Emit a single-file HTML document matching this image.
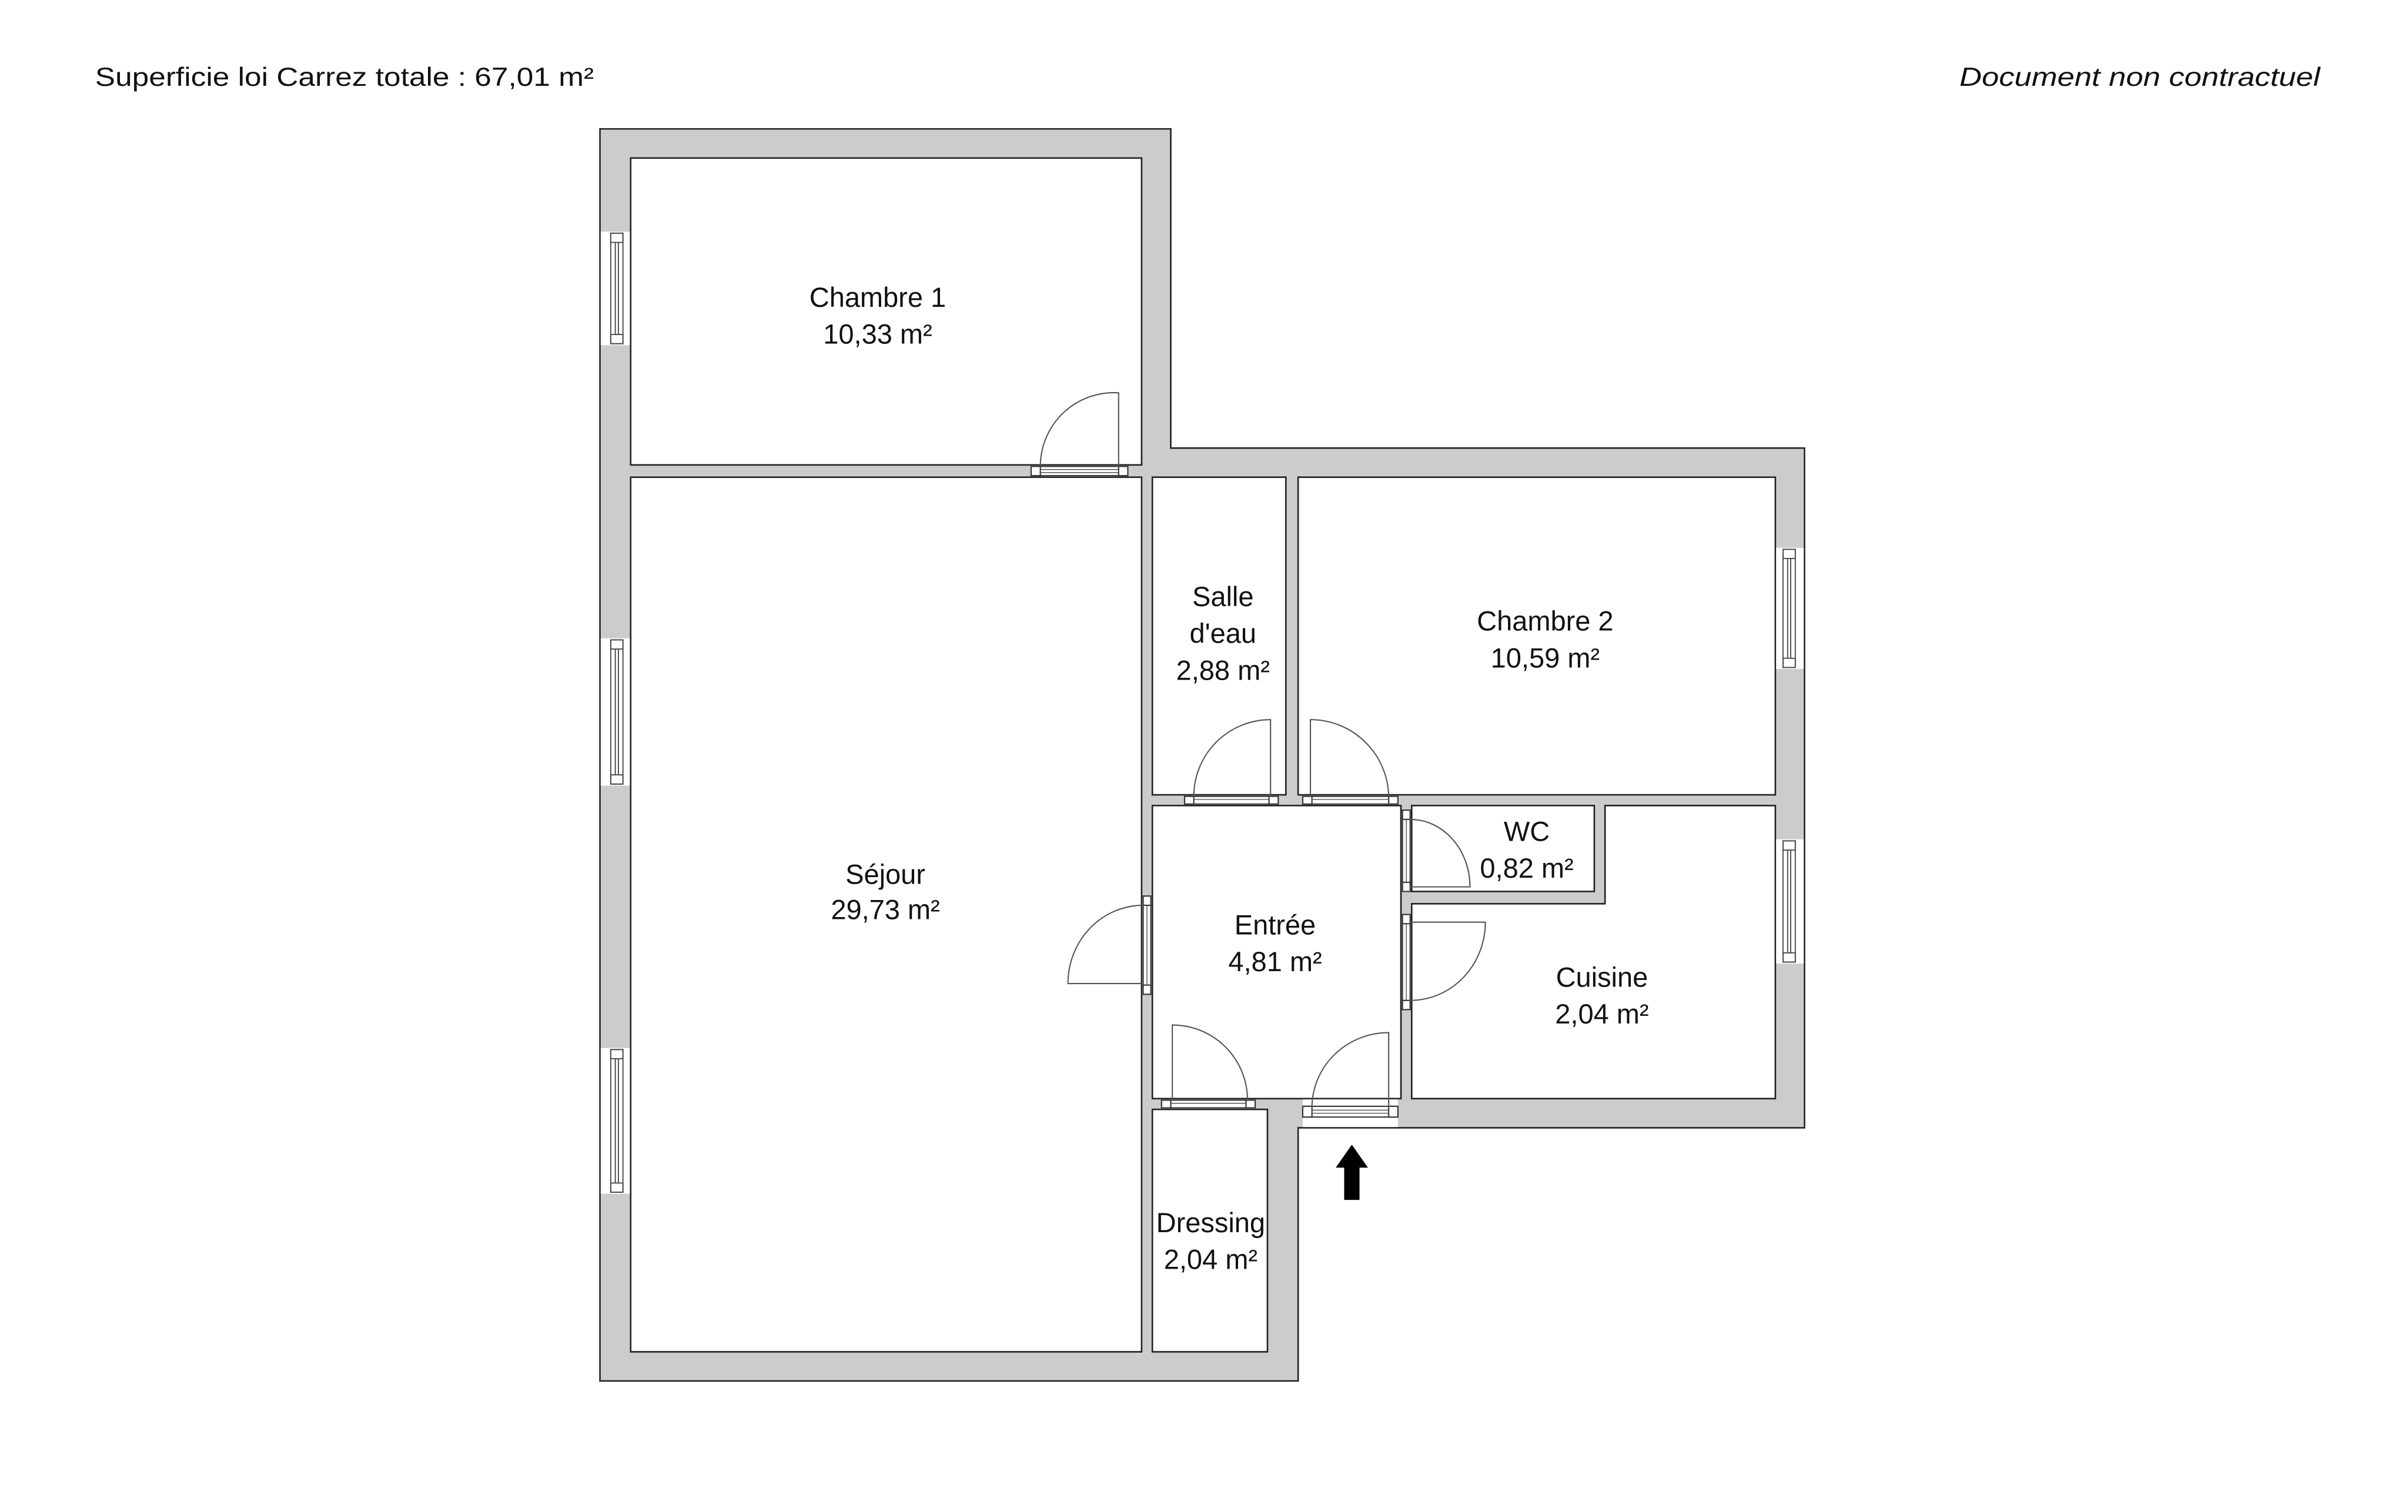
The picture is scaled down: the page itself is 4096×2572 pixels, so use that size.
<!DOCTYPE html>
<html><head><meta charset="utf-8"><style>
html,body{margin:0;padding:0;background:#fff;}
svg{display:block;}
text{font-family:"Liberation Sans",sans-serif;fill:#111;}
</style></head><body>
<svg width="4096" height="2572" viewBox="0 0 1569.3 985.4" preserveAspectRatio="none" xmlns="http://www.w3.org/2000/svg">
<rect x="0" y="0" width="1569.3" height="985.4" fill="#fff"/>
<text x="62" y="56" font-size="17" textLength="325" lengthAdjust="spacingAndGlyphs">Superficie loi Carrez totale :  67,01 m²</text>
<text x="1277" y="56" font-size="17" font-style="italic" textLength="235" lengthAdjust="spacingAndGlyphs">Document non contractuel</text>

<!-- walls -->
<polygon points="391,84 763,84 763,292 1176,292 1176,735 846,735 846,900 391,900" fill="#cccccc" stroke="#222" stroke-width="1"/>
<g fill="#fff" stroke="#222" stroke-width="1">
<rect x="411" y="103" width="333" height="200"/>
<rect x="411" y="311" width="333" height="570"/>
<rect x="751" y="311" width="87" height="207"/>
<rect x="846" y="311" width="311" height="207"/>
<rect x="751" y="525" width="162" height="191"/>
<rect x="920" y="525" width="119" height="56"/>
<polygon points="920,589 1046,589 1046,525 1157,525 1157,716 920,716"/>
<rect x="751" y="723" width="75" height="158"/>
</g>

<!-- windows -->
<g stroke="#444" stroke-width="0.7">
<g fill="#fff">
<rect x="391.5" y="151" width="19" height="74" stroke="none"/>
<rect x="391.5" y="416" width="19" height="96" stroke="none"/>
<rect x="391.5" y="683" width="19" height="95" stroke="none"/>
<rect x="1157.5" y="357" width="18" height="79" stroke="none"/>
<rect x="1157.5" y="547" width="18" height="81" stroke="none"/>
</g>
<g fill="none">
<rect x="398" y="152" width="8" height="72"/><rect x="398" y="152" width="8" height="6"/><rect x="398" y="218" width="8" height="6"/><line x1="401" y1="158" x2="401" y2="218"/><line x1="403" y1="158" x2="403" y2="218"/>
<rect x="398" y="417" width="8" height="94"/><rect x="398" y="417" width="8" height="6"/><rect x="398" y="505" width="8" height="6"/><line x1="401" y1="423" x2="401" y2="505"/><line x1="403" y1="423" x2="403" y2="505"/>
<rect x="398" y="684" width="8" height="93"/><rect x="398" y="684" width="8" height="6"/><rect x="398" y="771" width="8" height="6"/><line x1="401" y1="690" x2="401" y2="771"/><line x1="403" y1="690" x2="403" y2="771"/>
<rect x="1162" y="358" width="8" height="77"/><rect x="1162" y="358" width="8" height="6"/><rect x="1162" y="429" width="8" height="6"/><line x1="1165" y1="364" x2="1165" y2="429"/><line x1="1167" y1="364" x2="1167" y2="429"/>
<rect x="1162" y="548" width="8" height="79"/><rect x="1162" y="548" width="8" height="6"/><rect x="1162" y="621" width="8" height="6"/><line x1="1165" y1="554" x2="1165" y2="621"/><line x1="1167" y1="554" x2="1167" y2="621"/>
</g>
</g>

<!-- door openings -->
<g fill="#fff" stroke="none">
<rect x="672" y="303.5" width="63" height="7"/>
<rect x="772" y="518.5" width="61" height="6"/>
<rect x="849" y="518.5" width="62" height="6"/>
<rect x="744.5" y="584" width="6" height="64"/>
<rect x="913.5" y="528" width="6" height="53"/>
<rect x="913.5" y="596" width="6" height="62"/>
<rect x="757" y="716.5" width="61" height="6"/>
<rect x="849" y="716.5" width="62" height="18"/>
</g>
<g fill="#fff" stroke="#333" stroke-width="0.8">
<rect x="672" y="304" width="63" height="6"/><rect x="672" y="304" width="6" height="6"/><rect x="729" y="304" width="6" height="6"/>
<rect x="772" y="519" width="61" height="5"/><rect x="772" y="519" width="6" height="5"/><rect x="827" y="519" width="6" height="5"/>
<rect x="849" y="519" width="62" height="5"/><rect x="849" y="519" width="6" height="5"/><rect x="905" y="519" width="6" height="5"/>
<rect x="757" y="717" width="61" height="5"/><rect x="757" y="717" width="6" height="5"/><rect x="812" y="717" width="6" height="5"/>
<rect x="849" y="721" width="62" height="7"/><rect x="849" y="721" width="6" height="7"/><rect x="905" y="721" width="6" height="7"/>
<rect x="745" y="584" width="5" height="64"/><rect x="745" y="584" width="5" height="6"/><rect x="745" y="642" width="5" height="6"/>
<rect x="914" y="528" width="5" height="53"/><rect x="914" y="528" width="5" height="6"/><rect x="914" y="575" width="5" height="6"/>
<rect x="914" y="596" width="5" height="62"/><rect x="914" y="596" width="5" height="6"/><rect x="914" y="652" width="5" height="6"/>
</g>
<g fill="none" stroke="#444" stroke-width="0.5">
<line x1="678" y1="306" x2="729" y2="306"/><line x1="678" y1="308" x2="729" y2="308"/>
<line x1="778" y1="521" x2="827" y2="521"/><line x1="855" y1="521" x2="905" y2="521"/>
<line x1="763" y1="719" x2="812" y2="719"/><line x1="855" y1="723.5" x2="905" y2="723.5"/><line x1="855" y1="725.5" x2="905" y2="725.5"/>
<line x1="747.5" y1="590" x2="747.5" y2="642"/><line x1="916.5" y1="534" x2="916.5" y2="575"/><line x1="916.5" y1="602" x2="916.5" y2="652"/>
</g>
<g fill="none" stroke="#555" stroke-width="0.8">
<path d="M729,304 L729,256 A48,48 0 0 0 678,304"/>
<path d="M828,519 L828,469 A50,50 0 0 0 778,519"/>
<path d="M854,519 L854,469 A51,51 0 0 1 905,519"/>
<path d="M745,641 L696,641 A49,51 0 0 1 745,590"/>
<path d="M919,578 L958,578 A39,44 0 0 0 919,534"/>
<path d="M919,601 L968,601 A49,51 0 0 1 919,652"/>
<path d="M764,717 L764,668 A49,49 0 0 1 813,717"/>
<path d="M905,722 L905,673 A50,49 0 0 0 855,722"/>
</g>
<polygon points="881,746 891.5,761 886,761 886,782 876,782 876,761 870.5,761" fill="#000"/>

<g font-size="18" text-anchor="middle">
<text x="572" y="200">Chambre 1</text><text x="572" y="224">10,33 m²</text>
<text x="797" y="395">Salle</text><text x="797" y="419">d'eau</text><text x="797" y="443">2,88 m²</text>
<text x="1007" y="411">Chambre 2</text><text x="1007" y="435">10,59 m²</text>
<text x="577" y="576">Séjour</text><text x="577" y="599">29,73 m²</text>
<text x="831" y="609">Entrée</text><text x="831" y="633">4,81 m²</text>
<text x="995" y="548">WC</text><text x="995" y="572">0,82 m²</text>
<text x="1044" y="643">Cuisine</text><text x="1044" y="667">2,04 m²</text>
<text x="789" y="803">Dressing</text><text x="789" y="827">2,04 m²</text>
</g>
</svg>
</body></html>
